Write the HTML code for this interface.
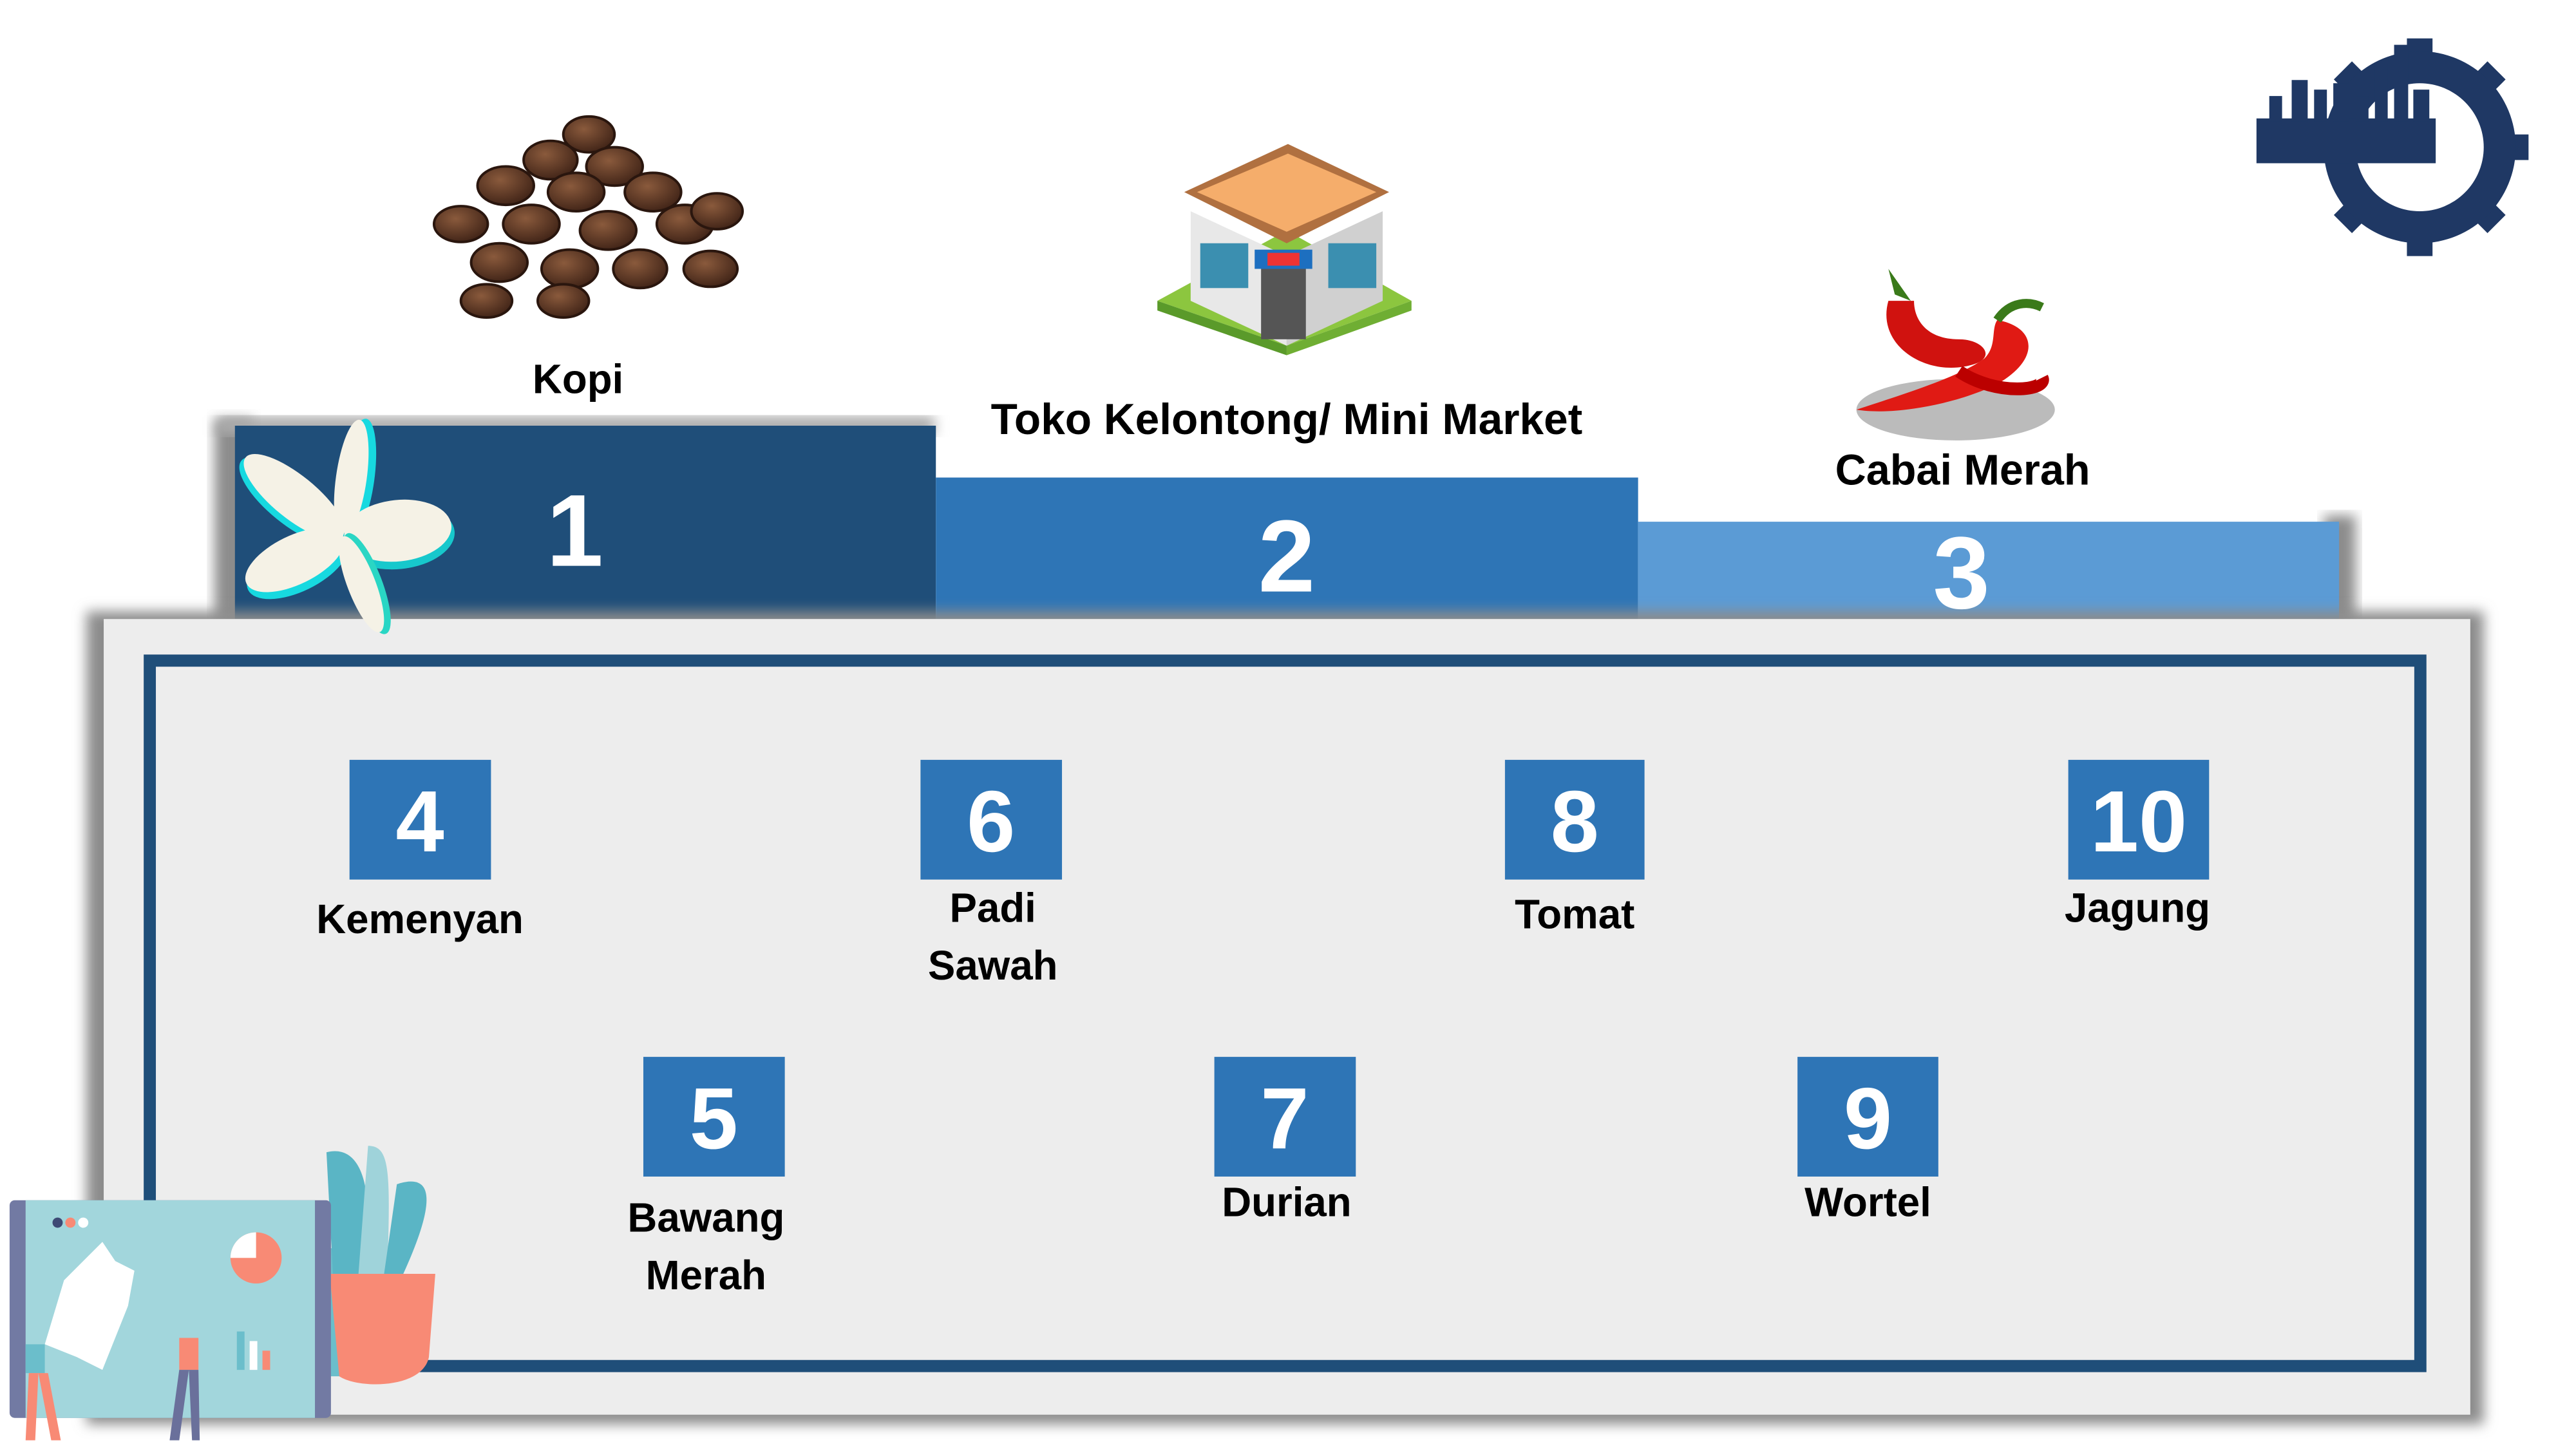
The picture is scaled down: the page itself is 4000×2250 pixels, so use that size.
<!DOCTYPE html>
<html><head><meta charset="utf-8"><style>
html,body{margin:0;padding:0;background:#fff;}
svg{display:block;}
text{font-family:"Liberation Sans",sans-serif;font-weight:bold;}
</style></head><body>
<svg width="4000" height="2250" viewBox="0 0 4000 2250" xmlns="http://www.w3.org/2000/svg">
<defs>
<filter id="sh" x="-20%" y="-5%" width="140%" height="115%"><feGaussianBlur stdDeviation="10"/></filter>
<radialGradient id="bean" cx="40%" cy="35%" r="70%"><stop offset="0" stop-color="#8a5a3c"/><stop offset="1" stop-color="#3e2216"/></radialGradient>
</defs>
<rect width="4000" height="2250" fill="#fff"/>
<g transform="scale(0.994)">
<!-- podium shadows -->
<rect x="335" y="655" width="60" height="320" fill="#8c8c8c" filter="url(#sh)"/>
<rect x="3630" y="805" width="50" height="170" fill="#8c8c8c" filter="url(#sh)"/>
<rect x="340" y="650" width="1120" height="30" fill="#aaa" filter="url(#sh)"/>
<!-- podiums -->
<rect x="367" y="665" width="1095" height="302" fill="#1F4E79"/>
<rect x="1462" y="746" width="1097" height="221" fill="#2E75B6"/>
<rect x="2559" y="815" width="1095" height="152" fill="#5B9BD5"/>
<!-- big panel shadow -->
<rect x="135" y="955" width="3745" height="1270" fill="#8c8c8c" filter="url(#sh)"/>
<rect x="162" y="967" width="3697" height="1243" fill="#EDEDED"/>
<rect x="234" y="1032" width="3547" height="1102" fill="none" stroke="#1F4E79" stroke-width="19"/>
<!-- podium numbers -->
<g fill="#fff" text-anchor="middle" font-size="160">
<text x="898" y="884">1</text>
<text x="2010" y="924">2</text>
<text x="3064" y="950">3</text>
</g>
<!-- flower -->
<g transform="translate(536,838)">
<g transform="rotate(8)"><ellipse cx="10" cy="-92" rx="26" ry="95" fill="#17d9e0"/><ellipse cx="0" cy="-92" rx="24" ry="92" fill="#f5f2e6"/></g>
<g transform="rotate(-51)"><ellipse cx="-8" cy="-98" rx="36" ry="100" fill="#17d9e0"/><ellipse cx="0" cy="-98" rx="34" ry="98" fill="#f5f2e6"/></g>
<g transform="rotate(84)"><ellipse cx="10" cy="-86" rx="50" ry="88" fill="#17c8cc"/><ellipse cx="0" cy="-86" rx="48" ry="84" fill="#f5f2e6"/></g>
<g transform="rotate(-116)"><ellipse cx="-10" cy="-84" rx="40" ry="86" fill="#17d9e0"/><ellipse cx="0" cy="-84" rx="38" ry="84" fill="#f5f2e6"/></g>
<g transform="rotate(159)"><ellipse cx="-8" cy="-82" rx="24" ry="84" fill="#2ad6c4"/><ellipse cx="0" cy="-80" rx="22" ry="80" fill="#f5f2e6"/></g>
</g>
<!-- number boxes -->
<g fill="#2E75B6">
<rect x="546" y="1187" width="221" height="187"/>
<rect x="1438" y="1187" width="221" height="187"/>
<rect x="2351" y="1187" width="218" height="187"/>
<rect x="3231" y="1187" width="220" height="187"/>
<rect x="1005" y="1651" width="221" height="187"/>
<rect x="1897" y="1651" width="221" height="187"/>
<rect x="2808" y="1651" width="220" height="187"/>
</g>
<g fill="#fff" text-anchor="middle" font-size="136">
<text x="656" y="1330">4</text>
<text x="1548" y="1330">6</text>
<text x="2460" y="1330">8</text>
<text x="3341" y="1330">10</text>
<text x="1115" y="1794">5</text>
<text x="2007" y="1794">7</text>
<text x="2918" y="1794">9</text>
</g>
<g fill="#000" text-anchor="middle" font-size="64">
<text x="656" y="1458">Kemenyan</text>
<text x="1551" y="1440">Padi</text>
<text x="1551" y="1530">Sawah</text>
<text x="2460" y="1450">Tomat</text>
<text x="3339" y="1440">Jagung</text>
<text x="1103" y="1924">Bawang</text>
<text x="1103" y="2014">Merah</text>
<text x="2010" y="1900">Durian</text>
<text x="2918" y="1900">Wortel</text>
<text x="903" y="614">Kopi</text>
<text x="2010" y="678" font-size="68">Toko Kelontong/ Mini Market</text>
<text x="3066" y="757" font-size="67">Cabai Merah</text>
</g>
<!-- coffee beans -->
<g fill="url(#bean)" stroke="#2a160e" stroke-width="4">
<ellipse cx="920" cy="210" rx="40" ry="28"/>
<ellipse cx="860" cy="250" rx="42" ry="30"/>
<ellipse cx="960" cy="260" rx="44" ry="30"/>
<ellipse cx="790" cy="290" rx="44" ry="30"/>
<ellipse cx="900" cy="300" rx="44" ry="30"/>
<ellipse cx="1020" cy="300" rx="44" ry="30"/>
<ellipse cx="720" cy="350" rx="42" ry="28"/>
<ellipse cx="830" cy="350" rx="44" ry="30"/>
<ellipse cx="950" cy="360" rx="44" ry="30"/>
<ellipse cx="1070" cy="350" rx="44" ry="30"/>
<ellipse cx="1120" cy="330" rx="40" ry="28"/>
<ellipse cx="780" cy="410" rx="44" ry="30"/>
<ellipse cx="890" cy="420" rx="44" ry="30"/>
<ellipse cx="1000" cy="420" rx="42" ry="30"/>
<ellipse cx="1110" cy="420" rx="42" ry="28"/>
<ellipse cx="760" cy="470" rx="40" ry="26"/>
<ellipse cx="880" cy="470" rx="40" ry="26"/>
</g>
<!-- store -->
<polygon points="1808,470 2010,360 2205,470 2010,540" fill="#8cc63f"/>
<polygon points="1808,470 2010,540 2010,555 1808,485" fill="#5a9a2a"/>
<polygon points="2205,470 2010,540 2010,555 2205,485" fill="#6fae33"/>
<polygon points="1860,330 2010,400 2010,540 1860,470" fill="#e8e8e8"/>
<polygon points="2160,330 2010,400 2010,540 2160,470" fill="#d0d0d0"/>
<polygon points="1850,300 2012,225 2170,300 2010,380" fill="#b07040"/>
<polygon points="1870,300 2012,240 2150,300 2010,362" fill="#f5ad6b"/>
<rect x="1970" y="420" width="70" height="110" fill="#555"/>
<rect x="1960" y="390" width="90" height="30" fill="#1d6fc0"/>
<rect x="1980" y="395" width="50" height="20" fill="#e33"/>
<rect x="1875" y="380" width="75" height="70" fill="#3b8fb0"/>
<rect x="2075" y="380" width="75" height="70" fill="#3b8fb0"/>
<!-- chili -->
<ellipse cx="3055" cy="640" rx="155" ry="48" fill="#bbb"/>
<path d="M2950 470 C 2930 540 3010 590 3080 570 C 3120 560 3100 530 3060 530 C 3010 530 2990 500 2990 470Z" fill="#d0120f"/>
<path d="M3120 500 C 3180 510 3190 560 3120 600 C 3060 630 2960 650 2900 640 C 2960 620 3060 590 3100 560 C 3120 540 3110 515 3120 500Z" fill="#e01a14"/>
<path d="M3060 580 C 3120 620 3200 610 3190 590" stroke="#b00" stroke-width="20" fill="none"/>
<path d="M2960 460 L2950 420 L2985 470" fill="#3a7a1a"/>
<path d="M3120 500 C 3140 470 3170 470 3190 480" stroke="#3a7a1a" stroke-width="14" fill="none"/>
<!-- gear logo -->
<g fill="#1F3864">
<g stroke="#1F3864" stroke-width="40">
<line x1="3780" y1="60" x2="3780" y2="400"/>
<line x1="3610" y1="230" x2="3950" y2="230"/>
<line x1="3660" y1="110" x2="3900" y2="350"/>
<line x1="3900" y1="110" x2="3660" y2="350"/>
</g>
<circle cx="3780" cy="230" r="150"/>
<circle cx="3780" cy="230" r="100" fill="#fff"/>
<rect x="3525" y="185" width="280" height="70"/>
<rect x="3545" y="150" width="20" height="40"/><rect x="3580" y="125" width="25" height="65"/>
<rect x="3615" y="140" width="20" height="50"/><rect x="3645" y="130" width="25" height="60"/>
<rect x="3680" y="150" width="20" height="40"/><rect x="3710" y="100" width="20" height="90"/>
<rect x="3740" y="70" width="22" height="120"/><rect x="3770" y="140" width="25" height="50"/>
</g>
<!-- tablet illustration -->
<path d="M470 1950 L560 1950 L590 1960 L590 2150 L470 2150Z" fill="#6bbecb"/>
<path d="M510 1800 C 550 1790 590 1820 570 1990 L520 1990Z" fill="#5ab5c5"/>
<path d="M575 1790 C 610 1790 610 1830 605 1990 L560 1990Z" fill="#9fd3da"/>
<path d="M620 1850 C 680 1830 680 1880 630 1990 L600 1990Z" fill="#5ab5c5"/>
<path d="M515 1990 L680 1990 L670 2120 C 660 2170 560 2170 530 2150Z" fill="#f88a75"/>
<rect x="15" y="1875" width="502" height="340" rx="8" fill="#727aa3"/>
<rect x="40" y="1875" width="452" height="340" fill="#a2d6dc"/>
<circle cx="90" cy="1910" r="8" fill="#3e4a75"/><circle cx="110" cy="1910" r="8" fill="#f88a75"/><circle cx="130" cy="1910" r="8" fill="#fff"/>
<path d="M100 2000 L160 1940 L180 1970 L210 1985 L200 2040 L160 2140 L120 2120 L70 2100Z" fill="#fff"/>
<circle cx="400" cy="1965" r="40" fill="#f88a75"/>
<path d="M400 1965 L400 1925 A40 40 0 0 0 360 1965Z" fill="#fff"/>
<rect x="370" y="2080" width="12" height="60" fill="#6bbecb"/><rect x="390" y="2095" width="12" height="45" fill="#fff"/><rect x="410" y="2110" width="12" height="30" fill="#f88a75"/>
<rect x="40" y="2100" width="30" height="45" fill="#6bbecb"/>
<path d="M45 2145 L40 2250 L55 2250 L60 2145Z M60 2145 L80 2250 L95 2250 L75 2145Z" fill="#f88a75"/>
<rect x="280" y="2090" width="30" height="50" fill="#f88a75"/>
<path d="M280 2140 L265 2250 L280 2250 L295 2140Z M295 2140 L300 2250 L312 2250 L310 2140Z" fill="#6a709b"/>
</g>
</svg>
</body></html>
